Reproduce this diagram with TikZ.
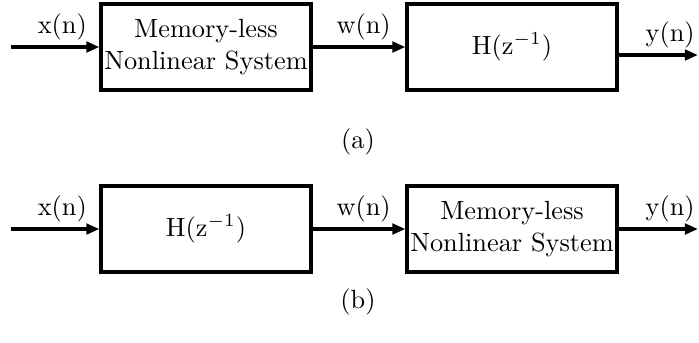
\documentclass[tikz,border=0pt]{standalone}
\usepackage{tikz}
\usetikzlibrary{arrows.meta,positioning}

\begin{document}
\begin{tikzpicture}[
    x=0.38pt, y=-0.38pt,
    sys/.style={draw, line width=1.5pt, align=center, minimum width=79.5pt, minimum height=33pt, inner sep=0pt},
    arrow/.style={-{Triangle[length=5pt,width=4pt]}, line width=1.3pt},
    sig/.style={above, inner sep=2pt},
    node distance=8mm and 35.3pt
]
\useasboundingbox (0,0) rectangle (699,342);

% (a) nonlinearity, then filter
\node[sys] (nla) at (206,47) {Memory-less\\Nonlinear System};
\node[sys, right=of nla] (ha) {H(z$^{-1}$)};
\coordinate (ina) at (11,47);
\coordinate (outa) at (698,55);
\node (capa) at (358,142) {(a)};

\draw[arrow] (ina) -- node[sig, pos=0.58]{x(n)} (nla);
\draw[arrow] (nla) -- node[sig, pos=0.55]{w(n)} (ha);
\draw[arrow] (ha.east |- outa) -- node[sig, pos=0.65]{y(n)} (outa);

% (b) filter, then nonlinearity
\node[sys] (hb) at (206,229) {H(z$^{-1}$)};
\node[sys, right=of hb] (nlb) {Memory-less\\Nonlinear System};
\coordinate (inb) at (11,229);
\coordinate (outb) at (698,229);
\node (capb) at (358,302) {(b)};

\draw[arrow] (inb) -- node[sig, pos=0.58]{x(n)} (hb);
\draw[arrow] (hb) -- node[sig, pos=0.55]{w(n)} (nlb);
\draw[arrow] (nlb) -- node[sig, pos=0.65]{y(n)} (outb);
\end{tikzpicture}
\end{document}
